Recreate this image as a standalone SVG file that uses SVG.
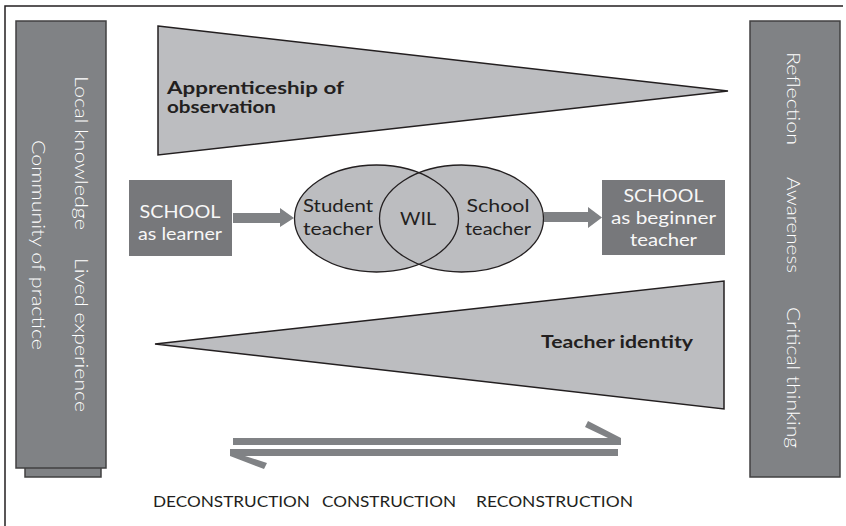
<svg xmlns="http://www.w3.org/2000/svg" width="846" height="526" viewBox="0 0 846 526">
<style>
.frame{fill:none;stroke:#231f20;stroke-width:1.5}
.bar{fill:#808285;stroke:#414042;stroke-width:1.5}
.tri{fill:#bcbdc0;stroke:#231f20;stroke-width:1.5}
.ellf{fill:#bcbdc0;stroke:none}
.ells{fill:none;stroke:#231f20;stroke-width:1.3}
.box{fill:#77787b}
.arr{fill:#808285}
.vt{font-family:Lato,"Open Sans",sans-serif;font-weight:300;font-size:18px;fill:#ffffff}
.bt{font-family:Lato,"Open Sans",sans-serif;font-weight:400;font-size:17px;fill:#f7f7f7;text-anchor:middle}
.et{font-family:Lato,"Open Sans",sans-serif;font-weight:400;font-size:17px;fill:#231f20;text-anchor:middle}
.bold{font-family:Lato,"Open Sans",sans-serif;font-weight:700;font-size:16.5px;fill:#231f20}
.lab{font-family:Lato,"Open Sans",sans-serif;font-weight:400;font-size:16px;fill:#231f20}
</style>
<path class="frame" d="M5,526 V6 H843"/>

<g id="left-bar">
<rect class="bar" x="25" y="467" width="76" height="10"/>
<rect class="bar" x="16" y="21" width="90" height="447"/>
<text class="vt" transform="translate(75,76) rotate(90)" textLength="154" lengthAdjust="spacingAndGlyphs">Local knowledge</text>
<text class="vt" transform="translate(75,258) rotate(90)" textLength="154" lengthAdjust="spacingAndGlyphs">Lived experience</text>
<text class="vt" transform="translate(32,140) rotate(90)" textLength="210" lengthAdjust="spacingAndGlyphs">Community of practice</text>
</g>

<g id="right-bar">
<rect class="bar" x="750" y="21" width="90" height="456"/>
<text class="vt" transform="translate(787,52) rotate(90)" textLength="93" lengthAdjust="spacingAndGlyphs">Reflection</text>
<text class="vt" transform="translate(787,177) rotate(90)" textLength="96" lengthAdjust="spacingAndGlyphs">Awareness</text>
<text class="vt" transform="translate(787,307) rotate(90)" textLength="141" lengthAdjust="spacingAndGlyphs">Critical thinking</text>
</g>

<g id="apprenticeship">
<polygon class="tri" points="158,26 728,91 158,155"/>
<text class="bold" x="167" y="94" textLength="177" lengthAdjust="spacingAndGlyphs">Apprenticeship of</text>
<text class="bold" x="167" y="113" textLength="109" lengthAdjust="spacingAndGlyphs">observation</text>
</g>

<g id="teacher-identity">
<polygon class="tri" points="155,344 724,281 724,409"/>
<text class="bold" x="541" y="348" textLength="152" lengthAdjust="spacingAndGlyphs">Teacher identity</text>
</g>

<g id="school-learner">
<rect class="box" x="129" y="180" width="103" height="76"/>
<text class="bt" x="180" y="218" textLength="81" lengthAdjust="spacingAndGlyphs">SCHOOL</text>
<text class="bt" x="180" y="240" textLength="84" lengthAdjust="spacingAndGlyphs">as learner</text>
</g>

<g id="wil">
<ellipse class="ellf" cx="376.5" cy="218.5" rx="82" ry="53.5"/>
<ellipse class="ellf" cx="461.5" cy="218.5" rx="82" ry="53.5"/>
<ellipse class="ells" cx="376.5" cy="218.5" rx="82" ry="53.5"/>
<ellipse class="ells" cx="461.5" cy="218.5" rx="82" ry="53.5"/>
<text class="et" x="338" y="212" textLength="70" lengthAdjust="spacingAndGlyphs">Student</text>
<text class="et" x="338" y="235" textLength="70" lengthAdjust="spacingAndGlyphs">teacher</text>
<text class="et" x="418" y="225" textLength="36" lengthAdjust="spacingAndGlyphs">WIL</text>
<text class="et" x="498" y="212" textLength="63" lengthAdjust="spacingAndGlyphs">School</text>
<text class="et" x="498" y="235" textLength="66" lengthAdjust="spacingAndGlyphs">teacher</text>
</g>

<g id="school-beginner">
<rect class="box" x="602" y="180" width="123" height="75"/>
<text class="bt" x="663.5" y="202" textLength="80" lengthAdjust="spacingAndGlyphs">SCHOOL</text>
<text class="bt" x="663.5" y="224" textLength="105" lengthAdjust="spacingAndGlyphs">as beginner</text>
<text class="bt" x="663.5" y="246" textLength="67" lengthAdjust="spacingAndGlyphs">teacher</text>
</g>

<g id="connectors">
<polygon class="arr" points="233,213 280,213 280,208 294,218 280,227 280,223 233,223"/>
<polygon class="arr" points="544,212 588,212 588,207 602,217.5 588,228 588,222 544,222"/>
<polygon class="arr" points="233,438 608,438 585,427 588,421 621,438 621,445 233,445"/>
<polygon class="arr" points="230,449 618,449 618,456 245,456 267,463 264,469 230,456"/>
</g>

<g id="labels">
<text class="lab" x="153" y="507" textLength="157" lengthAdjust="spacingAndGlyphs">DECONSTRUCTION</text>
<text class="lab" x="322" y="507" textLength="134" lengthAdjust="spacingAndGlyphs">CONSTRUCTION</text>
<text class="lab" x="476" y="507" textLength="157" lengthAdjust="spacingAndGlyphs">RECONSTRUCTION</text>
</g>
</svg>
